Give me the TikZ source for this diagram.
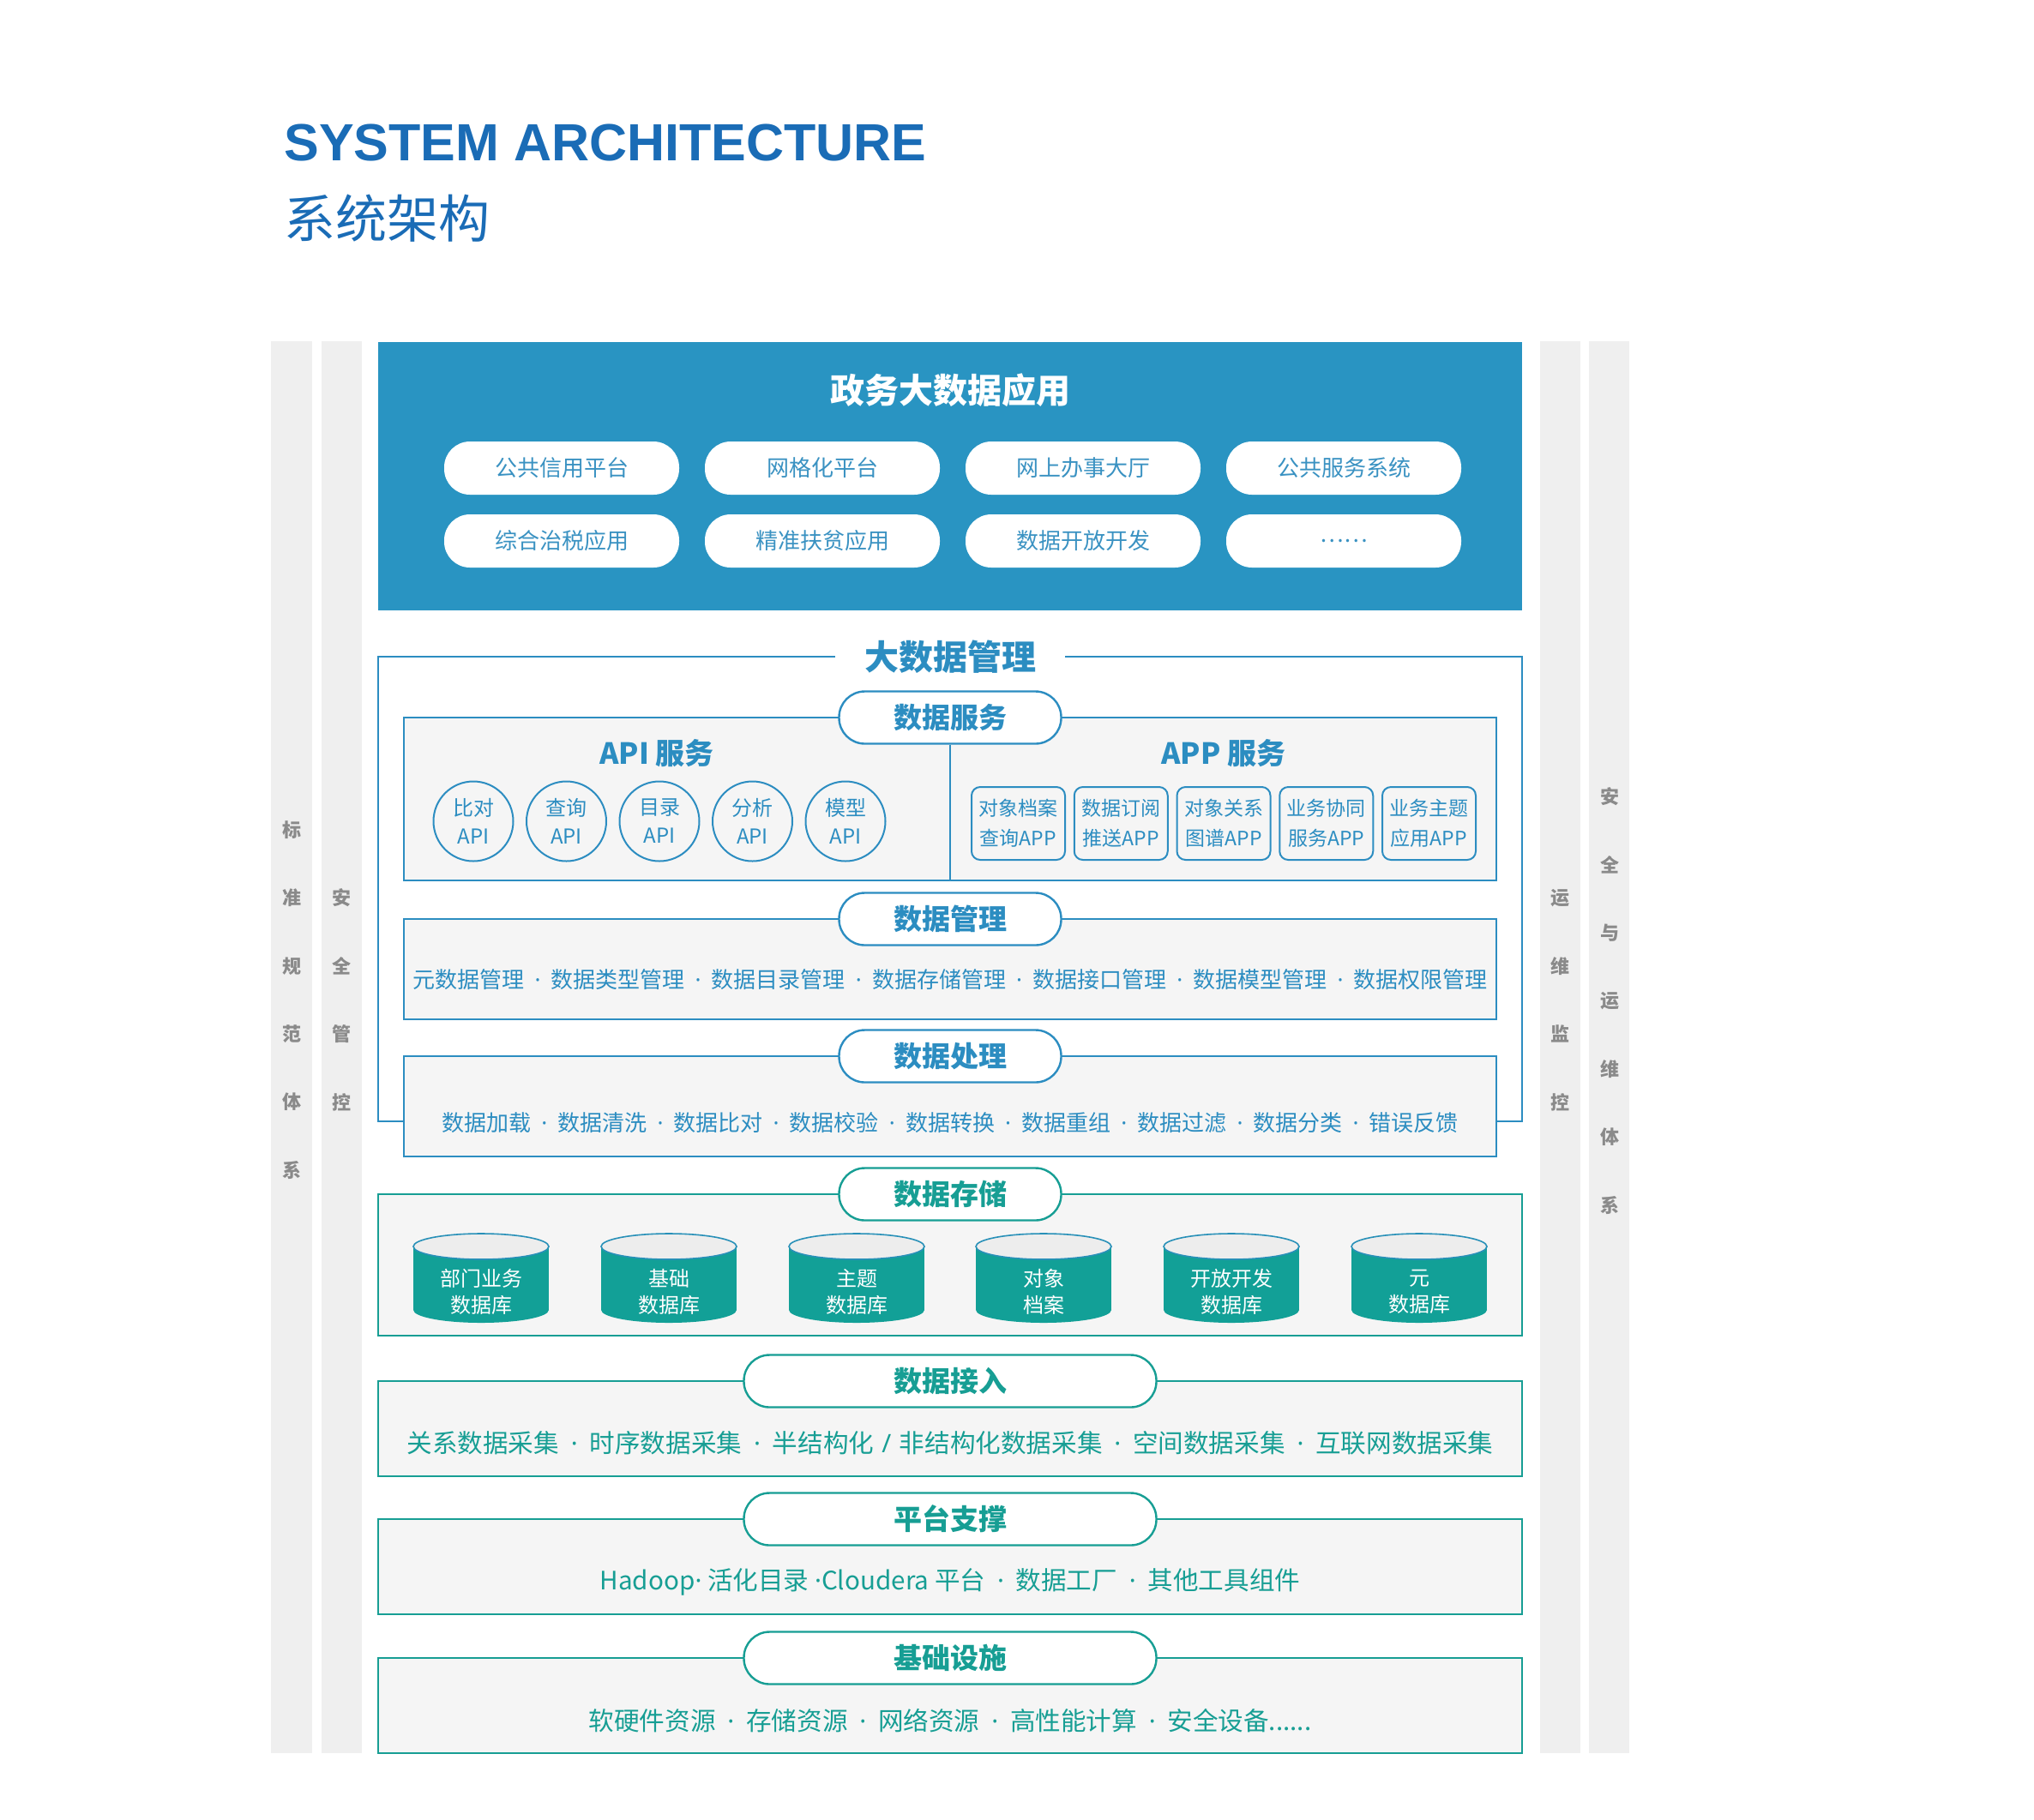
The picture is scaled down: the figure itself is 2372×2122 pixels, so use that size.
\documentclass[tikz,border=0pt]{standalone}
\usepackage{fontspec}
\setmainfont{Noto Sans CJK SC}
\newfontfamily\titlefont{Liberation Sans}
\newfontfamily\latinfont{Noto Sans}
\newcommand\ldot{{\latinfont ·}}
\newcommand\sep{\makebox[1.2em]{\ldot}}
\usetikzlibrary{shapes.geometric}
\definecolor{titleblue}{HTML}{1A6CB6}
\definecolor{panel}{HTML}{2994C2}
\definecolor{pilltext}{HTML}{3A92C2}
\definecolor{mblue}{HTML}{2C8DC1}
\definecolor{teal}{HTML}{179E94}
\definecolor{cylteal}{HTML}{12A097}
\definecolor{cyltop}{HTML}{EDEDED}
\definecolor{boxfill}{HTML}{F5F5F5}
\definecolor{bargray}{HTML}{EFEFEF}
\definecolor{sidetext}{HTML}{8A8A8A}
\tikzset{
  sidebar/.style={fill=bargray, draw=none},
  sidechar/.style={text=sidetext, font=\fontsize{11pt}{13pt}\selectfont\bfseries, inner sep=0pt},
  apppill/.style={rectangle, fill=white, draw=none, minimum width=137pt, minimum height=31pt, rounded corners=15pt, text=pilltext, font=\fontsize{13pt}{15pt}\selectfont, inner sep=0pt},
  secbox/.style={fill=boxfill, line width=1.2pt},
  secpill/.style={rectangle, fill=white, line width=1.2pt, minimum width=129.5pt, minimum height=30.5pt, rounded corners=15pt, font=\fontsize{16.5pt}{18pt}\selectfont\bfseries, inner sep=0pt},
  widepill/.style={secpill, minimum width=240.5pt},
  bodytext/.style={font=\fontsize{13pt}{16pt}\selectfont, inner sep=0pt},
  tealtext/.style={font=\fontsize{14.8pt}{18pt}\selectfont, inner sep=0pt, text=teal},
  apicircle/.style={circle, draw=mblue, line width=1pt, minimum size=46.5pt, inner sep=0pt, align=center, text=mblue, font=\fontsize{12pt}{16.5pt}\selectfont},
  appbox/.style={rectangle, draw=mblue, line width=1pt, rounded corners=5pt, minimum width=54.5pt, minimum height=42.5pt, inner sep=0pt, align=center, text=mblue, font=\fontsize{11.5pt}{17.5pt}\selectfont},
  cyltext/.style={text=white, align=center, inner sep=0pt, font=\fontsize{12pt}{15.5pt}\selectfont},
}
\begin{document}
\begin{tikzpicture}[x=0.5pt,y=-0.5pt]
\useasboundingbox (0,0) rectangle (2372,2122);
\fill[white] (0,0) rectangle (2372,2122);

% titles
\node[anchor=base west, inner sep=0pt, text=titleblue, font=\titlefont\fontsize{30.5pt}{34pt}\selectfont\bfseries] (title) at (331,187) {SYSTEM ARCHITECTURE};
\node[inner sep=0pt, text=titleblue, font=\fontsize{30pt}{34pt}\selectfont] (subtitle) at (451.5,255) {系统架构};

% side bars
\fill[sidebar] (316,398) rectangle (364,2045);
\fill[sidebar] (375,398) rectangle (422,2045);
\fill[sidebar] (1796,398) rectangle (1843,2045);
\fill[sidebar] (1853,398) rectangle (1900,2045);
\foreach \c [count=\i from 0] in {标,准,规,范,体,系}
  \node[sidechar] (sa\i) at (340,968+79.4*\i) {\c};
\foreach \c [count=\i from 1] in {安,全,管,控}
  \node[sidechar] (sb\i) at (398,968+79.4*\i) {\c};
\foreach \c [count=\i from 1] in {运,维,监,控}
  \node[sidechar] (sc\i) at (1819,968+79.4*\i) {\c};
\foreach \c [count=\i from 0] in {安,全,与,运,维,体,系}
  \node[sidechar] (sd\i) at (1877,929+79.5*\i) {\c};

% application panel
\fill[panel] (441,399) rectangle (1775,712);
\node[text=white, font=\fontsize{20pt}{24pt}\selectfont\bfseries, inner sep=0pt] (apptitle) at (1108,455) {政务大数据应用};
\node[apppill] (p1) at (655,546) {公共信用平台};
\node[apppill] (p2) at (959,546) {网格化平台};
\node[apppill] (p3) at (1263,546) {网上办事大厅};
\node[apppill] (p4) at (1567,546) {公共服务系统};
\node[apppill] (p5) at (655,631) {综合治税应用};
\node[apppill] (p6) at (959,631) {精准扶贫应用};
\node[apppill] (p7) at (1263,631) {数据开放开发};
\node[apppill] (p8) at (1567,631) {……};

% big data management frame
\node[minimum width=134pt, inner sep=0pt, text=mblue, font=\fontsize{20pt}{24pt}\selectfont\bfseries] (mgmt) at (1108,766) {大数据管理};
\draw[mblue, line width=1.2pt] (mgmt.west) -- (441,766) -- (441,1308) -- (471,1308);
\draw[mblue, line width=1.2pt] (mgmt.east) -- (1775,766) -- (1775,1308) -- (1745,1308);

% data service
\draw[secbox, draw=mblue] (471,837) rectangle (1745,1027);
\node[secpill, draw=mblue, text=mblue] (svc) at (1108,837) {数据服务};
\draw[mblue, line width=1pt] (svc.south) -- (1108,1027);
\node[text=mblue, inner sep=0pt, font=\fontsize{17pt}{20pt}\selectfont\bfseries] (apisvc) at (766,879) {API 服务};
\node[text=mblue, inner sep=0pt, font=\fontsize{17pt}{20pt}\selectfont\bfseries] (appsvc) at (1427,879) {APP 服务};
\node[apicircle] (c1) at (552,958) {比对\\API};
\node[apicircle] (c2) at (660.5,958) {查询\\API};
\node[apicircle] (c3) at (769,958) {目录\\API};
\node[apicircle] (c4) at (877.5,958) {分析\\API};
\node[apicircle] (c5) at (986,958) {模型\\API};
\node[appbox] (a1) at (1187.5,960.5) {对象档案\\查询APP};
\node[appbox] (a2) at (1307.25,960.5) {数据订阅\\推送APP};
\node[appbox] (a3) at (1427,960.5) {对象关系\\图谱APP};
\node[appbox] (a4) at (1546.75,960.5) {业务协同\\服务APP};
\node[appbox] (a5) at (1666.5,960.5) {业务主题\\应用APP};

% data management
\draw[secbox, draw=mblue] (471,1072) rectangle (1745,1189);
\node[secpill, draw=mblue, text=mblue] (dm) at (1108,1072) {数据管理};
\node[bodytext, text=mblue] (dmtext) at (1108,1143) {元数据管理\sep 数据类型管理\sep 数据目录管理\sep 数据存储管理\sep 数据接口管理\sep 数据模型管理\sep 数据权限管理};

% data processing
\draw[secbox, draw=mblue] (471,1232) rectangle (1745,1349);
\node[secpill, draw=mblue, text=mblue] (dp) at (1108,1232) {数据处理};
\node[bodytext, text=mblue] (dptext) at (1108,1310) {数据加载\sep 数据清洗\sep 数据比对\sep 数据校验\sep 数据转换\sep 数据重组\sep 数据过滤\sep 数据分类\sep 错误反馈};

% data storage
\draw[secbox, draw=teal] (441,1393) rectangle (1775,1558);
\node[secpill, draw=teal, text=teal] (ds) at (1108,1393) {数据存储};
\foreach \cx/\lbl [count=\i] in {561/{部门业务\\数据库},780/{基础\\数据库},999/{主题\\数据库},1217/{对象\\档案},1436/{开放开发\\数据库},1655/{元\\数据库}} {
  \fill[cylteal] (\cx-79,1454) rectangle (\cx+79,1528);
  \fill[cylteal] (\cx,1528) ellipse [x radius=79, y radius=15];
  \filldraw[fill=cyltop, draw=mblue!80!teal, line width=0.8pt] (\cx,1454) ellipse [x radius=79, y radius=15];
  \node[cyltext] (cyl\i) at (\cx,1507) {\lbl};
}

% data access
\draw[secbox, draw=teal] (441,1611) rectangle (1775,1722);
\node[widepill, draw=teal, text=teal] (da) at (1108,1611) {数据接入};
\node[tealtext] (datext) at (1108,1683) {关系数据采集\sep 时序数据采集\sep 半结构化\makebox[1em]{\latinfont /}非结构化数据采集\sep 空间数据采集\sep 互联网数据采集};

% platform support
\draw[secbox, draw=teal] (441,1772) rectangle (1775,1883);
\node[widepill, draw=teal, text=teal] (ps) at (1108,1772) {平台支撑};
\node[tealtext] (pstext) at (1108,1845) {Hadoop\ldot{} 活化目录 \ldot{}Cloudera 平台\sep 数据工厂\sep 其他工具组件};

% infrastructure
\draw[secbox, draw=teal] (441,1934) rectangle (1775,2045);
\node[widepill, draw=teal, text=teal] (inf) at (1108,1934) {基础设施};
\node[tealtext] (inftext) at (1108,2007) {软硬件资源\sep 存储资源\sep 网络资源\sep 高性能计算\sep 安全设备......};
\end{tikzpicture}
\end{document}
